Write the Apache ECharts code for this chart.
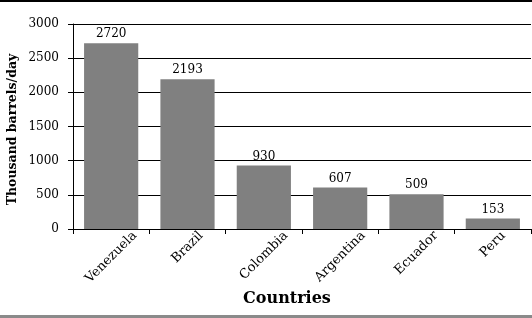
<!DOCTYPE html>
<html><head><meta charset="utf-8">
<script src="https://cdn.jsdelivr.net/npm/echarts@6/dist/echarts.min.js"></script>
<style>html,body{margin:0;padding:0;background:#fff}#c{width:532px;height:318px}</style>
</head><body><div id="c"></div>
<script>
const categories = ['Venezuela', 'Brazil', 'Colombia', 'Argentina', 'Ecuador', 'Peru'];
const production = [2720, 2193, 930, 607, 509, 153];
const yTicks = [0, 500, 1000, 1500, 2000, 2500, 3000];

const FONT = 'DejaVu Serif';
const catSize = 13;

const chart = echarts.init(document.getElementById('c'), null, { renderer: 'canvas' });
chart.setOption({
  animation: false,
  backgroundColor: '#fff',
  grid: { left: 73, right: 1, top: 24, bottom: 89, containLabel: false, outerBoundsMode: 'none' },
  xAxis: {
    type: 'category',
    data: categories,
    name: 'Countries',
    nameLocation: 'middle',
    nameGap: 62,
    nameMoveOverlap: false,
    nameTextStyle: { fontFamily: FONT, fontWeight: 'bold', fontSize: 16, color: '#000', padding: [0, 30, 0, 0] },
    axisLine: { lineStyle: { color: '#000', width: 1 } },
    axisTick: { show: true, length: 5, lineStyle: { color: '#000' } },
    axisLabel: { show: false, interval: 0 }
  },
  yAxis: {
    type: 'value',
    min: yTicks[0], max: yTicks[yTicks.length - 1], interval: yTicks[1] - yTicks[0],
    name: 'Thousand barrels/day',
    nameLocation: 'middle',
    nameGap: 54,
    nameMoveOverlap: false,
    nameTextStyle: { fontFamily: FONT, fontWeight: 'bold', fontSize: 12.5, color: '#000', padding: [0, 6, 0, 0] },
    axisLine: { show: true, lineStyle: { color: '#000', width: 1 } },
    axisTick: { show: true, length: 5, lineStyle: { color: '#000' } },
    splitLine: { show: true, lineStyle: { color: '#000', width: 1 } },
    axisLabel: { margin: 14, fontFamily: FONT, fontSize: 12, color: '#000', formatter: v => String(v) }
  },
  series: [{
    type: 'bar',
    data: production,
    barWidth: '71%',
    itemStyle: { color: '#808080' },
    label: { show: true, position: 'top', distance: 3, fontFamily: FONT, fontSize: 12, color: '#000' }
  }]
});

// Category labels: rotated 45°, horizontally centred on each category, top-aligned under the axis
const ctx = document.createElement('canvas').getContext('2d');
ctx.font = catSize + 'px "' + FONT + '"';
const y0 = chart.convertToPixel({ yAxisIndex: 0 }, 0);
const labelEls = categories.map(c => {
  const cx = chart.convertToPixel({ xAxisIndex: 0 }, c);
  const L = ctx.measureText(c).width;
  return {
    type: 'text', x: cx, y: y0 + (L + catSize) * 0.3535, rotation: Math.PI / 4, silent: true,
    style: { text: c, fontSize: catSize, fontFamily: FONT, fill: '#000', align: 'center', verticalAlign: 'middle' }
  };
});
chart.setOption({
  graphic: [
    { type: 'rect', shape: { x: 0, y: 0, width: 532, height: 2 }, style: { fill: '#000' } },
    { type: 'rect', shape: { x: 0, y: 315, width: 532, height: 3 }, style: { fill: '#8a8a8a' } }
  ].concat(labelEls)
});
</script></body></html>
